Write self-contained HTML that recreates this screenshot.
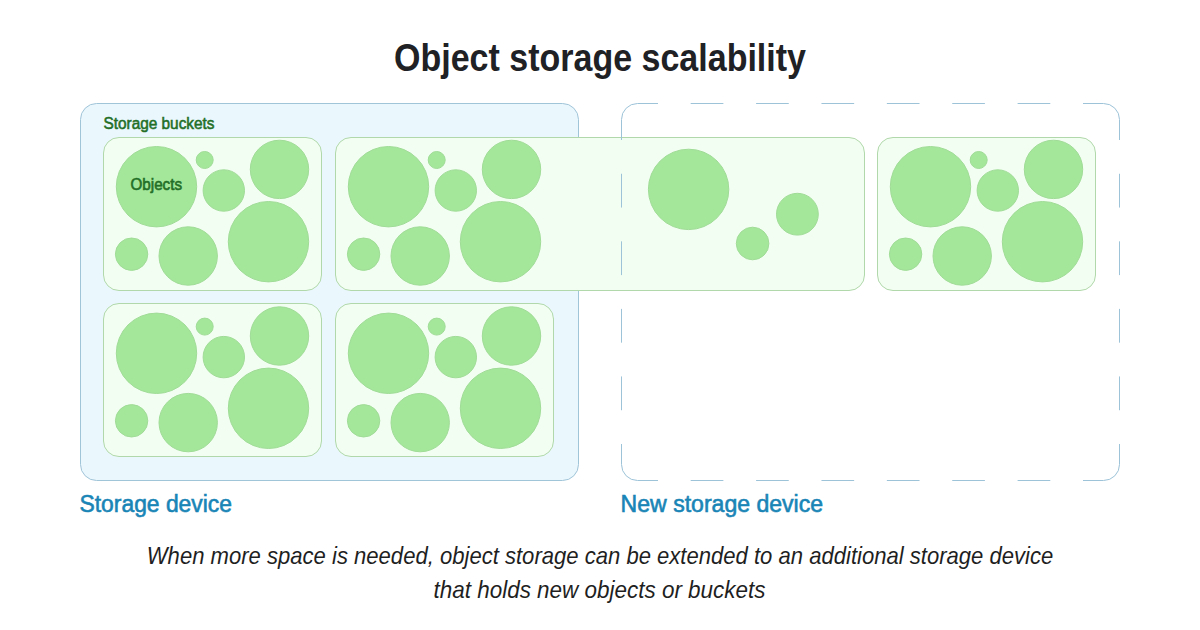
<!DOCTYPE html>
<html><head><meta charset="utf-8"><title>Object storage scalability</title>
<style>
html,body{margin:0;padding:0;background:#fff;}
body{width:1200px;height:630px;overflow:hidden;}
svg{display:block;font-family:"Liberation Sans", sans-serif;}
</style></head><body>
<svg width="1200" height="630" viewBox="0 0 1200 630">
<rect x="0" y="0" width="1200" height="630" fill="#ffffff"/>
<rect x="80.5" y="103.5" width="498" height="377" rx="16" ry="16" fill="#eaf7fd" stroke="#a0c4d8" stroke-width="1"/>
<rect x="103.5" y="137.5" width="218" height="153" rx="15.5" ry="15.5" fill="#f3fef2" stroke="#b0d8aa" stroke-width="1"/>
<rect x="335.5" y="137.5" width="529" height="153" rx="15.5" ry="15.5" fill="#f3fef2" stroke="#b0d8aa" stroke-width="1"/>
<rect x="877.5" y="137.5" width="218" height="153" rx="15.5" ry="15.5" fill="#f3fef2" stroke="#b0d8aa" stroke-width="1"/>
<rect x="103.5" y="303.5" width="218" height="153" rx="15.5" ry="15.5" fill="#f3fef2" stroke="#b0d8aa" stroke-width="1"/>
<rect x="335.5" y="303.5" width="218" height="153" rx="15.5" ry="15.5" fill="#f3fef2" stroke="#b0d8aa" stroke-width="1"/>
<circle cx="156.5" cy="186.7" r="40.2" fill="#a4e79b" stroke="#a0dc97" stroke-width="1"/><circle cx="204.7" cy="160.0" r="8.5" fill="#a4e79b" stroke="#a0dc97" stroke-width="1"/><circle cx="223.8" cy="190.5" r="20.7" fill="#a4e79b" stroke="#a0dc97" stroke-width="1"/><circle cx="279.5" cy="169.4" r="29.2" fill="#a4e79b" stroke="#a0dc97" stroke-width="1"/><circle cx="131.6" cy="254.2" r="16.2" fill="#a4e79b" stroke="#a0dc97" stroke-width="1"/><circle cx="188.2" cy="256.0" r="29.2" fill="#a4e79b" stroke="#a0dc97" stroke-width="1"/><circle cx="268.5" cy="241.7" r="40.2" fill="#a4e79b" stroke="#a0dc97" stroke-width="1"/>
<circle cx="388.5" cy="186.7" r="40.2" fill="#a4e79b" stroke="#a0dc97" stroke-width="1"/><circle cx="436.7" cy="160.0" r="8.5" fill="#a4e79b" stroke="#a0dc97" stroke-width="1"/><circle cx="455.8" cy="190.5" r="20.7" fill="#a4e79b" stroke="#a0dc97" stroke-width="1"/><circle cx="511.5" cy="169.4" r="29.2" fill="#a4e79b" stroke="#a0dc97" stroke-width="1"/><circle cx="363.6" cy="254.2" r="16.2" fill="#a4e79b" stroke="#a0dc97" stroke-width="1"/><circle cx="420.2" cy="256.0" r="29.2" fill="#a4e79b" stroke="#a0dc97" stroke-width="1"/><circle cx="500.5" cy="241.7" r="40.2" fill="#a4e79b" stroke="#a0dc97" stroke-width="1"/>
<circle cx="930.5" cy="186.7" r="40.2" fill="#a4e79b" stroke="#a0dc97" stroke-width="1"/><circle cx="978.7" cy="160.0" r="8.5" fill="#a4e79b" stroke="#a0dc97" stroke-width="1"/><circle cx="997.8" cy="190.5" r="20.7" fill="#a4e79b" stroke="#a0dc97" stroke-width="1"/><circle cx="1053.5" cy="169.4" r="29.2" fill="#a4e79b" stroke="#a0dc97" stroke-width="1"/><circle cx="905.6" cy="254.2" r="16.2" fill="#a4e79b" stroke="#a0dc97" stroke-width="1"/><circle cx="962.2" cy="256.0" r="29.2" fill="#a4e79b" stroke="#a0dc97" stroke-width="1"/><circle cx="1042.5" cy="241.7" r="40.2" fill="#a4e79b" stroke="#a0dc97" stroke-width="1"/>
<circle cx="156.5" cy="353.3" r="40.2" fill="#a4e79b" stroke="#a0dc97" stroke-width="1"/><circle cx="204.7" cy="326.6" r="8.5" fill="#a4e79b" stroke="#a0dc97" stroke-width="1"/><circle cx="223.8" cy="357.1" r="20.7" fill="#a4e79b" stroke="#a0dc97" stroke-width="1"/><circle cx="279.5" cy="336.0" r="29.2" fill="#a4e79b" stroke="#a0dc97" stroke-width="1"/><circle cx="131.6" cy="420.8" r="16.2" fill="#a4e79b" stroke="#a0dc97" stroke-width="1"/><circle cx="188.2" cy="422.6" r="29.2" fill="#a4e79b" stroke="#a0dc97" stroke-width="1"/><circle cx="268.5" cy="408.3" r="40.2" fill="#a4e79b" stroke="#a0dc97" stroke-width="1"/>
<circle cx="388.5" cy="353.3" r="40.2" fill="#a4e79b" stroke="#a0dc97" stroke-width="1"/><circle cx="436.7" cy="326.6" r="8.5" fill="#a4e79b" stroke="#a0dc97" stroke-width="1"/><circle cx="455.8" cy="357.1" r="20.7" fill="#a4e79b" stroke="#a0dc97" stroke-width="1"/><circle cx="511.5" cy="336.0" r="29.2" fill="#a4e79b" stroke="#a0dc97" stroke-width="1"/><circle cx="363.6" cy="420.8" r="16.2" fill="#a4e79b" stroke="#a0dc97" stroke-width="1"/><circle cx="420.2" cy="422.6" r="29.2" fill="#a4e79b" stroke="#a0dc97" stroke-width="1"/><circle cx="500.5" cy="408.3" r="40.2" fill="#a4e79b" stroke="#a0dc97" stroke-width="1"/>
<circle cx="688.6" cy="189.4" r="40.2" fill="#a4e79b" stroke="#a0dc97" stroke-width="1"/>
<circle cx="797.4" cy="214.2" r="20.9" fill="#a4e79b" stroke="#a0dc97" stroke-width="1"/>
<circle cx="752.6" cy="243.5" r="16.3" fill="#a4e79b" stroke="#a0dc97" stroke-width="1"/>
<path d="M621.5 140.0 L621.5 119.5 A16 16 0 0 1 637.5 103.5 L658.0 103.5 M1083.0 103.5 L1103.5 103.5 A16 16 0 0 1 1119.5 119.5 L1119.5 140.0 M1119.5 444.0 L1119.5 464.5 A16 16 0 0 1 1103.5 480.5 L1083.0 480.5 M658.0 480.5 L637.5 480.5 A16 16 0 0 1 621.5 464.5 L621.5 444.0 M690.69 103.5 L723.38 103.5 M690.69 480.5 L723.38 480.5 M756.08 103.5 L788.77 103.5 M756.08 480.5 L788.77 480.5 M821.46 103.5 L854.15 103.5 M821.46 480.5 L854.15 480.5 M886.85 103.5 L919.54 103.5 M886.85 480.5 L919.54 480.5 M952.23 103.5 L984.92 103.5 M952.23 480.5 L984.92 480.5 M1017.62 103.5 L1050.31 103.5 M1017.62 480.5 L1050.31 480.5 M621.5 173.78 L621.5 207.56 M1119.5 173.78 L1119.5 207.56 M621.5 241.33 L621.5 275.11 M1119.5 241.33 L1119.5 275.11 M621.5 308.89 L621.5 342.67 M1119.5 308.89 L1119.5 342.67 M621.5 376.44 L621.5 410.22 M1119.5 376.44 L1119.5 410.22" fill="none" stroke="#9cc3d8" stroke-width="1"/>
<text x="394" y="70.5" font-size="38.5" font-weight="bold" font-style="normal" fill="#202124" text-anchor="start" textLength="412" lengthAdjust="spacingAndGlyphs">Object storage scalability</text>
<text x="103.5" y="128.6" font-size="16" font-weight="normal" font-style="normal" fill="#236f27" text-anchor="start" textLength="111" lengthAdjust="spacingAndGlyphs" stroke="#236f27" stroke-width="0.55">Storage buckets</text>
<text x="130.5" y="189.8" font-size="16" font-weight="normal" font-style="normal" fill="#236f27" text-anchor="start" textLength="51.5" lengthAdjust="spacingAndGlyphs" stroke="#236f27" stroke-width="0.6">Objects</text>
<text x="79.5" y="511.5" font-size="23.5" font-weight="normal" font-style="normal" fill="#1985b6" text-anchor="start" textLength="152.5" lengthAdjust="spacingAndGlyphs" stroke="#1985b6" stroke-width="0.6">Storage device</text>
<text x="620.6" y="511.5" font-size="23.5" font-weight="normal" font-style="normal" fill="#1985b6" text-anchor="start" textLength="202.5" lengthAdjust="spacingAndGlyphs" stroke="#1985b6" stroke-width="0.6">New storage device</text>
<text x="146.8" y="564.0" font-size="24" font-weight="normal" font-style="italic" fill="#1f1f1f" text-anchor="start" textLength="906.5" lengthAdjust="spacingAndGlyphs">When more space is needed, object storage can be extended to an additional storage device</text>
<text x="433.5" y="597.9" font-size="24" font-weight="normal" font-style="italic" fill="#1f1f1f" text-anchor="start" textLength="332" lengthAdjust="spacingAndGlyphs">that holds new objects or buckets</text>
</svg>
</body></html>
